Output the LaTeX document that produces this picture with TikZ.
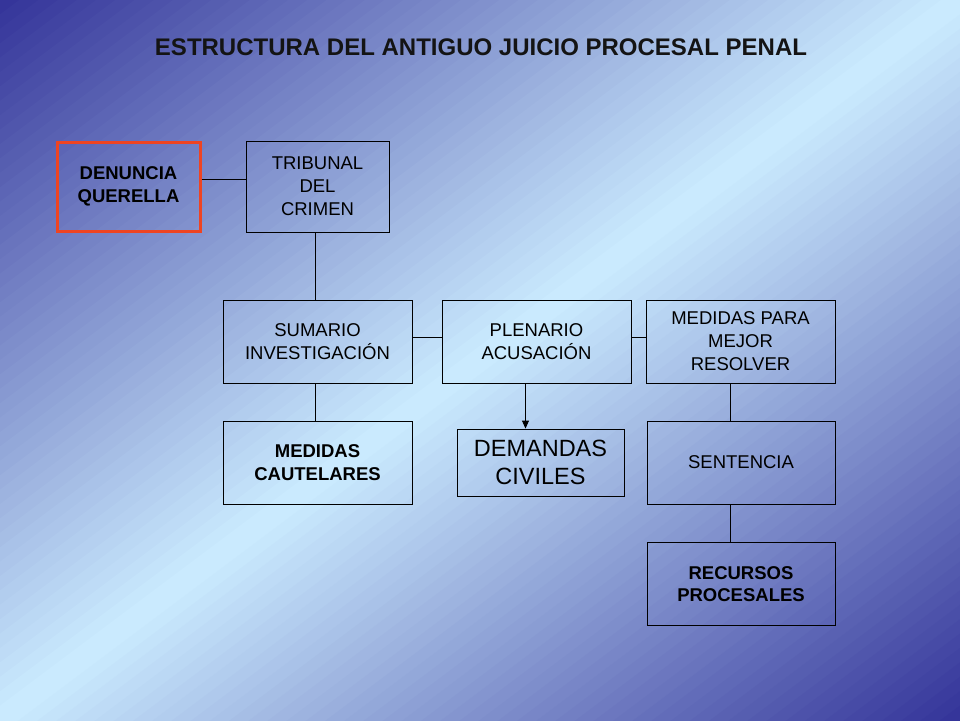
\documentclass[tikz,border=0pt]{standalone}
\usepackage{fontspec}
\setmainfont{Liberation Sans}
\usetikzlibrary{arrows.meta}
\definecolor{darkbg}{HTML}{333399}
\definecolor{lightbg}{HTML}{CCECFF}
\definecolor{redline}{HTML}{EE4422}
\tikzset{
  boxn/.style={draw=black, line width=0.9pt, inner sep=0pt, align=center,
    font=\fontsize{18.5}{23}\selectfont},
  boxb/.style={boxn, font=\fontsize{18.5}{22.5}\selectfont\bfseries},
  conn/.style={draw=black, line width=0.9pt},
}
\begin{document}
\begin{tikzpicture}[x=1pt,y=-1pt]
\useasboundingbox (0,0) rectangle (960,720);
\begin{scope}
  \clip (0,0) rectangle (960,720);
  \foreach \i in {0,...,99}{
    \pgfmathsetmacro\ta{\i/50}
    \pgfmathsetmacro\tb{(\i+1)/50+0.004}
    \pgfmathsetmacro\tm{(\i+0.5)/50}
    \pgfmathsetmacro\pc{100*(1-abs(\tm-1))}
    \fill[lightbg!\pc!darkbg] ({\ta*960-1920},1440) -- ({\ta*960+1920},-1440)
      -- ({\tb*960+1920},-1440) -- ({\tb*960-1920},1440) -- cycle;
  }
\end{scope}

\node[font=\fontsize{24}{28}\selectfont\bfseries, text=black!92] (title) at (481,47)
  {ESTRUCTURA DEL ANTIGUO JUICIO PROCESAL PENAL};

\node[boxb, draw=redline, line width=3pt, minimum width=143pt, minimum height=89pt] (den) at (128.5,186.5) {DENUNCIA\\QUERELLA};
\node[boxn, minimum width=143pt, minimum height=91pt] (trib) at (317.5,186.5) {TRIBUNAL\\DEL\\CRIMEN};
\node[boxn, minimum width=189pt, minimum height=83pt] (sum) at (317.5,341.5) {SUMARIO\\INVESTIGACIÓN};
\node[boxn, minimum width=189pt, minimum height=83pt] (plen) at (536.5,341.5) {PLENARIO\\ACUSACIÓN};
\node[boxn, minimum width=189pt, minimum height=83pt] (mmr) at (740.5,341.5) {MEDIDAS PARA\\MEJOR\\RESOLVER};
\node[boxb, minimum width=189pt, minimum height=83pt] (mcau) at (317.5,462.5) {MEDIDAS\\CAUTELARES};
\node[boxn, font=\fontsize{23.5}{28}\selectfont, minimum width=167pt, minimum height=67pt] (dem) at (540.5,462.5) {DEMANDAS\\CIVILES};
\node[boxn, minimum width=188pt, minimum height=83pt] (sent) at (741,462.5) {SENTENCIA};
\node[boxb, minimum width=188pt, minimum height=83pt] (rec) at (741,584) {RECURSOS\\PROCESALES};

\draw[conn] ([yshift=7.5pt]den.east) -- ([yshift=7.5pt]trib.west);
\draw[conn] ([xshift=-2.5pt]trib.south) -- ([xshift=-2.5pt]sum.north);
\draw[conn] ([yshift=4.5pt]sum.east) -- ([yshift=4.5pt]plen.west);
\draw[conn] ([yshift=4.5pt]plen.east) -- ([yshift=4.5pt]mmr.west);
\draw[conn] ([xshift=-2.5pt]sum.south) -- ([xshift=-2.5pt]mcau.north);
\draw[conn, -{Triangle[length=8pt,width=7pt]}] ([xshift=-11pt]plen.south) -- ([xshift=-15pt]dem.north);
\draw[conn] ([xshift=-10pt]mmr.south) -- ([xshift=-10.5pt]sent.north);
\draw[conn] ([xshift=-10.5pt]sent.south) -- ([xshift=-10.5pt]rec.north);
\end{tikzpicture}
\end{document}
